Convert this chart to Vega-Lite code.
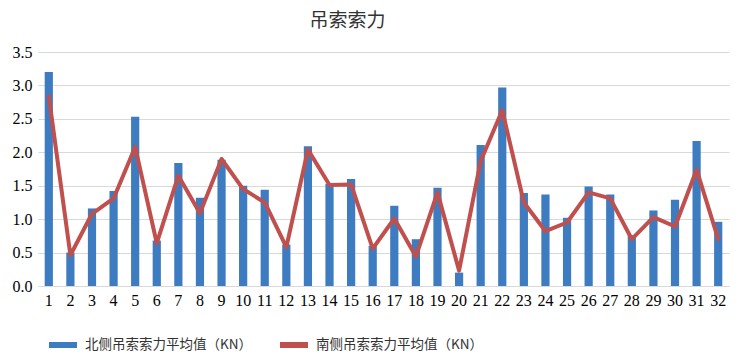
{
  "$schema": "https://vega.github.io/schema/vega-lite/v6.json",
  "width": 691,
  "height": 234,
  "autosize": "none",
  "padding": {"left": 38, "top": 52, "right": 11, "bottom": 76},
  "background": "white",
  "title": {"text": "吊索索力", "font": "Noto Sans CJK SC", "fontSize": 19, "fontWeight": "normal", "color": "#333333", "anchor": "middle", "dx": -36, "offset": 13},
  "data": {"values": [
    {"n": 1, "series": "北侧吊索索力平均值（KN）", "value": 3.2},
    {"n": 2, "series": "北侧吊索索力平均值（KN）", "value": 0.5},
    {"n": 3, "series": "北侧吊索索力平均值（KN）", "value": 1.16},
    {"n": 4, "series": "北侧吊索索力平均值（KN）", "value": 1.42},
    {"n": 5, "series": "北侧吊索索力平均值（KN）", "value": 2.53},
    {"n": 6, "series": "北侧吊索索力平均值（KN）", "value": 0.68},
    {"n": 7, "series": "北侧吊索索力平均值（KN）", "value": 1.84},
    {"n": 8, "series": "北侧吊索索力平均值（KN）", "value": 1.32},
    {"n": 9, "series": "北侧吊索索力平均值（KN）", "value": 1.89},
    {"n": 10, "series": "北侧吊索索力平均值（KN）", "value": 1.5},
    {"n": 11, "series": "北侧吊索索力平均值（KN）", "value": 1.44},
    {"n": 12, "series": "北侧吊索索力平均值（KN）", "value": 0.62},
    {"n": 13, "series": "北侧吊索索力平均值（KN）", "value": 2.09},
    {"n": 14, "series": "北侧吊索索力平均值（KN）", "value": 1.53},
    {"n": 15, "series": "北侧吊索索力平均值（KN）", "value": 1.6},
    {"n": 16, "series": "北侧吊索索力平均值（KN）", "value": 0.6},
    {"n": 17, "series": "北侧吊索索力平均值（KN）", "value": 1.2},
    {"n": 18, "series": "北侧吊索索力平均值（KN）", "value": 0.7},
    {"n": 19, "series": "北侧吊索索力平均值（KN）", "value": 1.47},
    {"n": 20, "series": "北侧吊索索力平均值（KN）", "value": 0.2},
    {"n": 21, "series": "北侧吊索索力平均值（KN）", "value": 2.11},
    {"n": 22, "series": "北侧吊索索力平均值（KN）", "value": 2.97},
    {"n": 23, "series": "北侧吊索索力平均值（KN）", "value": 1.39},
    {"n": 24, "series": "北侧吊索索力平均值（KN）", "value": 1.37},
    {"n": 25, "series": "北侧吊索索力平均值（KN）", "value": 1.02},
    {"n": 26, "series": "北侧吊索索力平均值（KN）", "value": 1.49},
    {"n": 27, "series": "北侧吊索索力平均值（KN）", "value": 1.37},
    {"n": 28, "series": "北侧吊索索力平均值（KN）", "value": 0.76},
    {"n": 29, "series": "北侧吊索索力平均值（KN）", "value": 1.13},
    {"n": 30, "series": "北侧吊索索力平均值（KN）", "value": 1.29},
    {"n": 31, "series": "北侧吊索索力平均值（KN）", "value": 2.17},
    {"n": 32, "series": "北侧吊索索力平均值（KN）", "value": 0.96},
    {"n": 1, "series": "南侧吊索索力平均值（KN）", "value": 2.84},
    {"n": 2, "series": "南侧吊索索力平均值（KN）", "value": 0.46},
    {"n": 3, "series": "南侧吊索索力平均值（KN）", "value": 1.08},
    {"n": 4, "series": "南侧吊索索力平均值（KN）", "value": 1.31},
    {"n": 5, "series": "南侧吊索索力平均值（KN）", "value": 2.08},
    {"n": 6, "series": "南侧吊索索力平均值（KN）", "value": 0.64},
    {"n": 7, "series": "南侧吊索索力平均值（KN）", "value": 1.65},
    {"n": 8, "series": "南侧吊索索力平均值（KN）", "value": 1.09},
    {"n": 9, "series": "南侧吊索索力平均值（KN）", "value": 1.9},
    {"n": 10, "series": "南侧吊索索力平均值（KN）", "value": 1.45},
    {"n": 11, "series": "南侧吊索索力平均值（KN）", "value": 1.25},
    {"n": 12, "series": "南侧吊索索力平均值（KN）", "value": 0.58},
    {"n": 13, "series": "南侧吊索索力平均值（KN）", "value": 2.04},
    {"n": 14, "series": "南侧吊索索力平均值（KN）", "value": 1.51},
    {"n": 15, "series": "南侧吊索索力平均值（KN）", "value": 1.52},
    {"n": 16, "series": "南侧吊索索力平均值（KN）", "value": 0.56},
    {"n": 17, "series": "南侧吊索索力平均值（KN）", "value": 1.01},
    {"n": 18, "series": "南侧吊索索力平均值（KN）", "value": 0.44},
    {"n": 19, "series": "南侧吊索索力平均值（KN）", "value": 1.4},
    {"n": 20, "series": "南侧吊索索力平均值（KN）", "value": 0.23},
    {"n": 21, "series": "南侧吊索索力平均值（KN）", "value": 1.87},
    {"n": 22, "series": "南侧吊索索力平均值（KN）", "value": 2.63},
    {"n": 23, "series": "南侧吊索索力平均值（KN）", "value": 1.25},
    {"n": 24, "series": "南侧吊索索力平均值（KN）", "value": 0.82},
    {"n": 25, "series": "南侧吊索索力平均值（KN）", "value": 0.95},
    {"n": 26, "series": "南侧吊索索力平均值（KN）", "value": 1.4},
    {"n": 27, "series": "南侧吊索索力平均值（KN）", "value": 1.31},
    {"n": 28, "series": "南侧吊索索力平均值（KN）", "value": 0.7},
    {"n": 29, "series": "南侧吊索索力平均值（KN）", "value": 1.03},
    {"n": 30, "series": "南侧吊索索力平均值（KN）", "value": 0.89},
    {"n": 31, "series": "南侧吊索索力平均值（KN）", "value": 1.74},
    {"n": 32, "series": "南侧吊索索力平均值（KN）", "value": 0.7}
  ]},
  "encoding": {
    "x": {"field": "n", "type": "ordinal", "sort": "ascending",
      "scale": {"paddingInner": 0.62, "paddingOuter": 0.31},
      "axis": {"title": null, "labelAngle": 0, "labelFont": "Liberation Serif", "labelFontSize": 16, "labelColor": "#000000", "ticks": false, "domainColor": "#D9D9D9", "labelPadding": 6}},
    "y": {"field": "value", "type": "quantitative",
      "scale": {"domain": [0, 3.5], "nice": false},
      "axis": {"title": null, "values": [0, 0.5, 1, 1.5, 2, 2.5, 3, 3.5], "format": ".1f", "labelFont": "Liberation Serif", "labelFontSize": 16, "labelColor": "#000000", "ticks": false, "domain": false, "gridColor": "#D9D9D9", "labelPadding": 6}},
    "color": {"field": "series", "type": "nominal",
      "scale": {"domain": ["北侧吊索索力平均值（KN）", "南侧吊索索力平均值（KN）"], "range": ["#3D7CC0", "#C0504D"]},
      "legend": {"title": null, "orient": "none", "legendX": 8, "legendY": 276, "direction": "horizontal", "symbolType": "stroke", "symbolSize": 784, "symbolStrokeWidth": 6, "labelFont": "Noto Sans CJK SC", "labelFontSize": 13.5, "labelLimit": 400, "labelColor": "#333333", "columnPadding": 16, "labelOffset": 5}}
  },
  "layer": [
    {"transform": [{"filter": "datum.series === '北侧吊索索力平均值（KN）'"}], "mark": {"type": "bar"}},
    {"transform": [{"filter": "datum.series === '南侧吊索索力平均值（KN）'"}], "mark": {"type": "line", "strokeWidth": 4, "strokeJoin": "round", "strokeCap": "round"}}
  ],
  "config": {"view": {"stroke": null}}
}
